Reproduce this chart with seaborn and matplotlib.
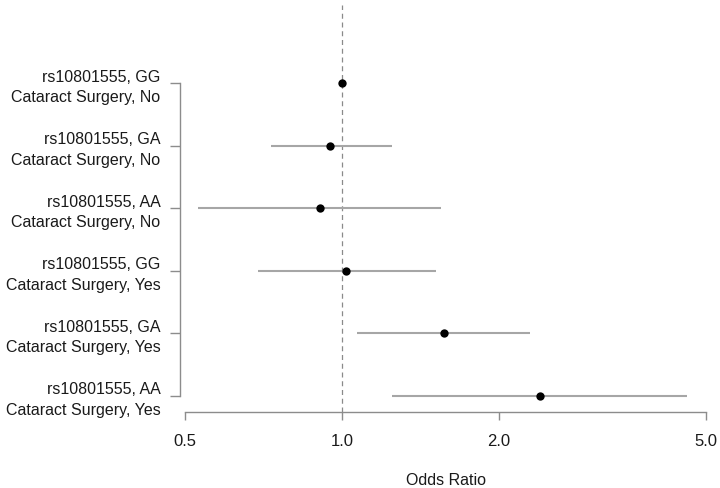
import numpy as np
import pandas as pd
import matplotlib
matplotlib.use("Agg")
import matplotlib.pyplot as plt
import seaborn as sns

# DATOS

labels = [
    "rs10801555, GG\nCataract Surgery, No",
    "rs10801555, GA\nCataract Surgery, No",
    "rs10801555, AA\nCataract Surgery, No",
    "rs10801555, GG\nCataract Surgery, Yes",
    "rs10801555, GA\nCataract Surgery, Yes",
    "rs10801555, AA\nCataract Surgery, Yes",
]
odds_ratio = [1.00, 0.95, 0.91, 1.02, 1.57, 2.40]
ci_low = [1.00, 0.73, 0.53, 0.69, 1.07, 1.25]
ci_high = [1.00, 1.25, 1.55, 1.52, 2.30, 4.60]
x_ticks = [0.5, 1.0, 2.0, 5.0]
x_tick_labels = ["0.5", "1.0", "2.0", "5.0"]

df = pd.DataFrame({
    "label": labels,
    "or": odds_ratio,
    "low": ci_low,
    "high": ci_high,
})
df["pos"] = np.arange(len(df), 0, -1)

# ESTILO

sns.set_style("white")
plt.rcParams["font.family"] = ["Liberation Sans", "DejaVu Sans"]

axis_color = "#8c8c8c"
line_color = "#a6a6a6"
text_color = "#1a1a1a"

fig = plt.figure(figsize=(7.2, 4.88), dpi=100)
ax = fig.add_axes([180 / 720, 1 - 412 / 488, (712 - 180) / 720, (412 - 5) / 488])

ax.set_xscale("log")

# línea de referencia OR = 1
ax.axvline(1.0, color="#8a8a8a", linestyle=(0, (4, 3)), linewidth=0.9, zorder=1)

# intervalos de confianza
ax.hlines(df["pos"], df["low"], df["high"], color=line_color, linewidth=1.5, zorder=2)

# puntos
sns.scatterplot(
    data=df,
    x="or",
    y="pos",
    color="black",
    s=36,
    edgecolor="black",
    linewidth=0,
    zorder=3,
    ax=ax,
    legend=False,
)

ax.set_xlim(0.489, 5.14)
ax.set_ylim(0.74, 7.25)

ax.set_xticks(x_ticks)
ax.set_xticklabels(x_tick_labels)
ax.xaxis.set_minor_locator(matplotlib.ticker.NullLocator())
ax.set_yticks(df["pos"])
ax.set_yticklabels(df["label"], linespacing=1.45)

for side in ["top", "right"]:
    ax.spines[side].set_visible(False)
ax.spines["left"].set_bounds(1, 6)
ax.spines["bottom"].set_bounds(0.5, 5.0)
for side in ["left", "bottom"]:
    ax.spines[side].set_color(axis_color)
    ax.spines[side].set_linewidth(1.0)

ax.tick_params(axis="y", which="major", direction="out", length=7, width=1.0,
               color=axis_color, labelcolor=text_color, labelsize=11.5, pad=7, left=True)
ax.tick_params(axis="x", which="major", direction="out", length=6, width=1.0,
               color=axis_color, labelcolor=text_color, labelsize=12, pad=10, bottom=True)

ax.set_xlabel("Odds Ratio", fontsize=11.5, color=text_color, labelpad=17)
ax.set_ylabel("")

plt.savefig("out.png", dpi=100, facecolor="white")
